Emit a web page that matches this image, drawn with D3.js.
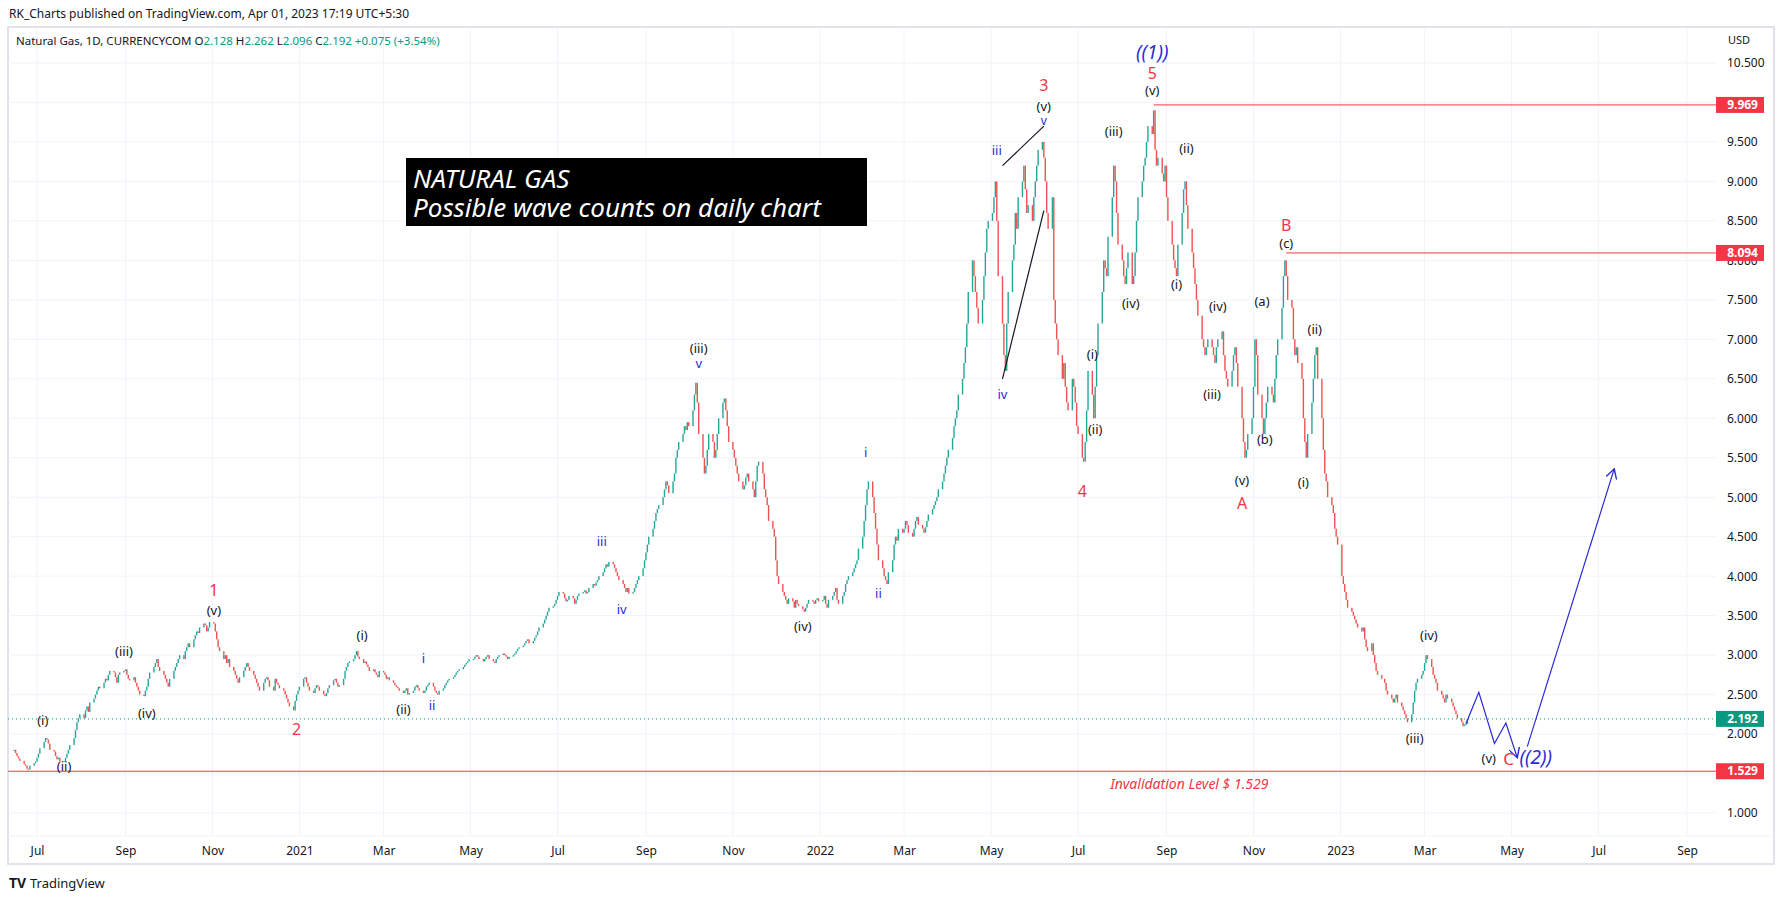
<!DOCTYPE html>
<html><head><meta charset="utf-8">
<script src="https://cdn.jsdelivr.net/npm/d3@7"></script>
<style>
body{margin:0;background:#fff;font-family:"Noto Sans",sans-serif;}
svg text{font-family:"Noto Sans",sans-serif;}
</style></head>
<body><div id="chart"></div>
<script>
// daily closes, one inner array per month (weekdays in order)
const startMonth2020 = "2020-06-15";
const close2020 = [
 [1.80,1.76,1.72,1.69,1.66,1.62,1.60,1.56,1.55,1.60,1.63,1.65],
 [1.70,1.75,1.82,1.90,1.95,1.93,1.88,1.80,1.78,1.72,1.68,1.70,1.65,1.66,1.70,1.75,1.80,1.86,1.95,2.05,2.15,2.20,2.25],
 [2.20,2.30,2.35,2.28,2.40,2.45,2.50,2.55,2.60,2.58,2.65,2.70,2.68,2.75,2.80,2.78,2.72,2.65,2.75,2.78,2.80],
 [2.82,2.75,2.70,2.68,2.72,2.65,2.60,2.55,2.50,2.48,2.55,2.60,2.70,2.78,2.85,2.90,2.95,2.85,2.80,2.75,2.70,2.65],
 [2.60,2.70,2.80,2.85,2.90,2.95,3.00,2.95,3.05,3.10,3.15,3.10,3.20,3.25,3.30,3.28,3.35,3.40,3.38,3.30,3.35,3.42],
 [3.40,3.30,3.20,3.10,3.05,2.95,3.00,2.90,2.95,2.85,2.80,2.75,2.70,2.65,2.72,2.80,2.85,2.90,2.85,2.80,2.75],
 [2.70,2.65,2.60,2.55,2.65,2.70,2.72,2.68,2.60,2.55,2.70,2.65,2.62,2.58,2.55,2.50,2.45,2.40,2.35,2.30,2.42,2.50,2.55]
];
const close2021 = [
 [2.60,2.70,2.72,2.65,2.60,2.55,2.52,2.58,2.62,2.60,2.55,2.50,2.48,2.52,2.58,2.62,2.68,2.70,2.65,2.60,2.62],
 [2.70,2.80,2.85,2.90,2.92,2.95,3.00,3.05,2.98,2.95,2.90,2.92,2.88,2.85,2.80,2.82,2.78,2.75,2.72,2.80],
 [2.78,2.75,2.70,2.72,2.68,2.65,2.62,2.60,2.58,2.55,2.52,2.55,2.58,2.50,2.52,2.55,2.60,2.62,2.58,2.55,2.52,2.55,2.60],
 [2.62,2.65,2.60,2.55,2.52,2.50,2.55,2.58,2.62,2.65,2.68,2.70,2.72,2.75,2.78,2.80,2.82,2.85,2.88,2.90,2.92,2.95],
 [2.95,2.98,3.00,2.98,2.95,2.92,2.95,2.98,3.00,2.95,2.92,2.90,2.95,2.98,3.00,3.02,3.00,2.98,2.95,2.98,3.00],
 [3.02,3.05,3.08,3.10,3.12,3.15,3.18,3.20,3.15,3.18,3.22,3.25,3.30,3.35,3.40,3.45,3.50,3.55,3.60,3.62,3.65,3.70],
 [3.75,3.80,3.78,3.72,3.68,3.70,3.75,3.72,3.65,3.70,3.75,3.78,3.80,3.82,3.78,3.80,3.85,3.90,3.88,3.92,3.95,4.00],
 [4.05,4.10,4.15,4.12,4.18,4.15,4.10,4.05,4.00,3.95,3.90,3.85,3.80,3.85,3.78,3.80,3.85,3.90,3.95,4.00,4.10,4.20],
 [4.30,4.40,4.50,4.60,4.70,4.80,4.85,4.90,5.00,5.10,5.20,5.15,5.05,5.20,5.30,5.50,5.60,5.70,5.80,5.90,5.85,5.95],
 [5.90,6.10,6.30,6.45,6.20,5.80,5.50,5.30,5.40,5.60,5.80,5.70,5.50,5.60,5.80,6.00,6.20,6.25,6.10,5.90,5.70],
 [5.60,5.50,5.40,5.30,5.20,5.10,5.15,5.25,5.30,5.20,5.10,5.00,5.20,5.40,5.45,5.30,5.10,5.00,4.90,4.70,4.60,4.50],
 [4.20,4.00,3.90,3.80,3.75,3.70,3.65,3.72,3.68,3.60,3.70,3.65,3.62,3.58,3.55,3.60,3.65,3.70,3.68,3.65,3.70,3.72,3.68]
];
const close2022 = [
 [3.70,3.75,3.65,3.60,3.70,3.75,3.80,3.85,3.70,3.65,3.75,3.80,3.90,3.95,4.00,4.05,4.10,4.15,4.20,4.35,4.50],
 [4.70,4.90,5.10,5.20,5.00,4.80,4.60,4.40,4.20,4.10,4.00,3.95,3.90,4.05,4.20,4.40,4.50,4.45,4.60,4.55],
 [4.60,4.70,4.65,4.55,4.50,4.60,4.70,4.75,4.65,4.60,4.55,4.62,4.70,4.78,4.85,4.90,4.95,5.00,5.10,5.20,5.30,5.40,5.50],
 [5.60,5.75,5.90,6.00,6.10,6.30,6.50,6.70,6.90,7.20,7.60,8.00,7.80,7.60,7.40,7.20,7.50,7.80,8.10,8.40,8.50],
 [8.60,8.80,9.00,8.50,7.80,7.20,6.80,6.60,7.20,7.60,8.00,8.20,8.60,8.40,8.80,9.00,9.20,8.90,8.60,8.70,8.50,8.80],
 [9.00,9.20,9.40,9.50,9.30,9.00,8.60,8.40,8.80,7.50,7.20,7.00,6.80,6.50,6.70,6.40,6.20,6.10,6.50,6.40,6.20,5.90],
 [5.80,5.50,5.45,5.70,6.10,6.60,6.30,6.00,6.40,6.80,7.20,7.60,8.00,7.90,7.80,8.30,8.80,9.20,9.00,8.60,8.20],
 [8.00,7.80,7.70,7.90,8.10,7.70,7.80,8.10,8.50,8.80,9.00,9.20,9.30,9.50,9.70,9.60,9.90,9.40,9.20,9.30,9.10,9.00,9.20],
 [8.80,8.50,8.20,8.00,7.90,7.80,8.20,8.60,8.90,9.00,8.70,8.40,8.10,7.90,7.70,7.50,7.30,7.00,6.90,6.80,6.90,7.00],
 [6.90,6.80,6.70,6.90,7.00,7.10,6.80,6.60,6.50,6.40,6.60,6.80,6.90,6.70,6.40,6.00,5.70,5.50,5.60,5.80,6.00],
 [6.40,7.00,6.80,6.30,6.00,5.80,6.00,6.20,6.40,6.30,6.20,6.50,6.80,7.00,7.40,7.80,8.00,7.80,7.50,7.40,7.00,6.80],
 [6.90,6.70,6.50,6.00,5.70,5.50,5.80,6.20,6.50,6.80,6.90,6.50,6.00,5.60,5.30,5.20,5.00,4.90,4.80,4.60,4.50,4.40]
];
const close2023 = [
 [4.00,3.90,3.80,3.70,3.60,3.55,3.50,3.45,3.40,3.35,3.30,3.35,3.20,3.10,3.05,3.15,3.00,2.90,2.80,2.75,2.70],
 [2.65,2.55,2.50,2.45,2.40,2.45,2.50,2.40,2.35,2.30,2.25,2.20,2.15,2.25,2.40,2.55,2.65,2.70,2.75,2.80],
 [2.90,3.00,2.95,2.85,2.75,2.70,2.65,2.55,2.50,2.45,2.40,2.50,2.45,2.40,2.35,2.30,2.25,2.20,2.15,2.10,2.12,2.128,2.192]
];

const priceTicks = d3.range(1, 10.51, 0.5);
const hiddenTickLabels = [10.0];
const levelLines = [ {date:"2022-08-23", price:9.969}, {date:"2022-11-24", price:8.094}, {date:"2020-06-01", price:1.529} ];
const lastPrice = 2.192;

// wave labels: [date, price, text, colour, size]
const waveLabels = [
 ["2020-07-05",2.16,"(i)","#131722",13],["2020-07-20",1.58,"(ii)","#131722",13],
 ["2020-08-31",3.03,"(iii)","#131722",13],["2020-09-16",2.25,"(iv)","#131722",13],
 ["2020-11-02",3.55,"(v)","#131722",13],["2020-11-02",3.80,"1","#f23645",16],
 ["2020-12-30",2.04,"2","#f23645",16],
 ["2021-02-14",3.24,"(i)","#131722",13],["2021-03-15",2.30,"(ii)","#131722",13],
 ["2021-03-29",2.94,"i","#2b2bd6",13],["2021-04-04",2.35,"ii","#2b2bd6",13],
 ["2021-08-01",4.42,"iii","#2b2bd6",13],["2021-08-15",3.56,"iv","#2b2bd6",13],
 ["2021-10-08",6.87,"(iii)","#131722",13],["2021-10-08",6.68,"v","#2b2bd6",13],
 ["2021-12-20",3.35,"(iv)","#131722",13],
 ["2022-02-02",5.55,"i","#2b2bd6",13],["2022-02-11",3.77,"ii","#2b2bd6",13],
 ["2022-05-05",9.38,"iii","#2b2bd6",13],["2022-05-09",6.29,"iv","#2b2bd6",13],
 ["2022-06-07",9.93,"(v)","#131722",13],["2022-06-07",10.20,"3","#f23645",16],["2022-06-07",9.76,"v","#2b2bd6",12],
 ["2022-07-04",5.06,"4","#f23645",16],
 ["2022-07-11",6.79,"(i)","#131722",13],["2022-07-13",5.85,"(ii)","#131722",13],
 ["2022-07-26",9.62,"(iii)","#131722",13],["2022-08-07",7.44,"(iv)","#131722",13],
 ["2022-08-22",10.14,"(v)","#131722",13],["2022-08-22",10.35,"5","#f23645",16],["2022-08-22",10.62,"((1))","#2b2bd6",19],
 ["2022-09-08",7.68,"(i)","#131722",13],["2022-09-15",9.41,"(ii)","#131722",13],
 ["2022-10-03",6.29,"(iii)","#131722",13],["2022-10-07",7.40,"(iv)","#131722",13],
 ["2022-10-24",5.20,"(v)","#131722",13],["2022-10-24",4.90,"A","#f23645",16],
 ["2022-11-07",7.46,"(a)","#131722",13],["2022-11-09",5.72,"(b)","#131722",13],
 ["2022-11-24",8.42,"B","#f23645",16],["2022-11-24",8.20,"(c)","#131722",13],
 ["2022-12-06",5.17,"(i)","#131722",13],["2022-12-14",7.11,"(ii)","#131722",13],
 ["2023-02-22",1.93,"(iii)","#131722",13],["2023-03-04",3.24,"(iv)","#131722",13],
 ["2023-04-15",1.68,"(v)","#131722",13],["2023-04-29",1.66,"C","#f23645",17],["2023-05-18",1.69,"((2))","#2b2bd6",19]
];
// drawn lines
const wedgeLines = [ [["2022-05-09",9.20],["2022-06-07",9.70]], [["2022-05-09",6.50],["2022-06-07",8.63]] ];
const projPath1 = [["2023-03-30",2.13],["2023-04-08",2.53],["2023-04-19",1.88],["2023-04-27",2.14],["2023-05-05",1.70]];
const projPath2 = [["2023-05-12",1.84],["2023-07-12",5.36]];

// ---- build candles
const parse = d3.timeParse("%Y-%m-%d");
function buildCandles() {
  const out = [];
  let prev = null;
  [[2020, close2020, 5], [2021, close2021, 0], [2022, close2022, 0], [2023, close2023, 0]].forEach(([yr, months, m0]) => {
    months.forEach((vals, mi) => {
      let d = (yr === 2020 && mi === 0) ? parse(startMonth2020) : new Date(yr, m0 + mi, 1);
      const end = new Date(yr, m0 + mi + 1, 1);
      let k = 0;
      while (d < end && k < vals.length) {
        const wd = d.getDay();
        if (wd !== 0 && wd !== 6) {
          const c = vals[k++];
          const o = prev == null ? c : prev;
          out.push({date: new Date(d), open: o, close: c});
          prev = c;
        }
        d = d3.timeDay.offset(d, 1);
      }
    });
  });
  return out;
}
const candles = buildCandles();

const W = 1777, H = 899;
const plotL = 8, plotR = 1716, plotT = 27, plotB = 836;
const svg = d3.select("#chart").append("svg").attr("width", W).attr("height", H);

const x = d3.scaleTime().domain([parse("2020-07-01"), parse("2023-09-01")]).range([37, 1687]);
const y = d3.scaleLinear().domain([1.0, 10.5]).range([813, 63]);

// header
svg.append("text").attr("x", 9).attr("y", 18).attr("font-size", 12).attr("fill", "#131722")
  .text("RK_Charts published on TradingView.com, Apr 01, 2023 17:19 UTC+5:30");
svg.append("rect").attr("x", plotL).attr("y", plotT).attr("width", 1766).attr("height", 837)
  .attr("fill", "none").attr("stroke", "#e0e3eb").attr("stroke-width", 2);

// grid
const gridG = svg.append("g");
gridG.selectAll("line.h").data(priceTicks).join("line")
  .attr("x1", plotL).attr("x2", plotR).attr("y1", d => y(d)).attr("y2", d => y(d))
  .attr("stroke", "#f0f3fa");
const monthTicks = d3.timeMonth.every(2).range(parse("2020-07-01"), parse("2023-09-02"));
gridG.selectAll("line.v").data(monthTicks).join("line")
  .attr("x1", d => x(d)).attr("x2", d => x(d)).attr("y1", plotT).attr("y2", plotB)
  .attr("stroke", "#f0f3fa");

// x axis
const xAxis = d3.axisBottom(x).tickValues(monthTicks).tickSize(0)
  .tickFormat(d => d.getMonth() === 0 ? d3.timeFormat("%Y")(d) : d3.timeFormat("%b")(d));
const xg = svg.append("g").attr("transform", `translate(0,${plotB})`).call(xAxis);
xg.select(".domain").remove();
xg.selectAll("text").attr("font-size", 12).attr("fill", "#131722").attr("dy", "1.3em");
svg.append("line").attr("x1", plotL).attr("x2", 1774).attr("y1", plotB).attr("y2", plotB).attr("stroke", "#f0f3fa");

// y axis
const yAxis = d3.axisRight(y).tickValues(priceTicks.filter(v => !hiddenTickLabels.includes(v)))
  .tickSize(0).tickFormat(d3.format(".3f"));
const yg = svg.append("g").attr("transform", `translate(${plotR + 8},0)`).call(yAxis);
yg.select(".domain").remove();
yg.selectAll("text").attr("font-size", 12).attr("fill", "#131722");
svg.append("text").attr("x", plotR + 12).attr("y", 44).attr("font-size", 11).attr("fill", "#131722").text("USD");

// candles
const cg = svg.append("g");
cg.selectAll("rect").data(candles).join("rect")
  .attr("x", d => x(d.date) - 0.7).attr("width", 1.4)
  .attr("y", d => y(Math.max(d.open, d.close)))
  .attr("height", d => Math.max(1, Math.abs(y(d.open) - y(d.close))))
  .attr("fill", d => d.close >= d.open ? "#26a69a" : "#ef5350");

// last price dotted line
svg.append("line").attr("x1", plotL).attr("x2", plotR).attr("y1", y(lastPrice)).attr("y2", y(lastPrice))
  .attr("stroke", "#089981").attr("stroke-dasharray", "1,3");

// level lines
svg.selectAll("line.level").data(levelLines).join("line")
  .attr("x1", d => Math.max(plotL, x(parse(d.date)))).attr("x2", plotR)
  .attr("y1", d => y(d.price)).attr("y2", d => y(d.price)).attr("stroke", "#f23645");

// axis price boxes
const boxes = levelLines.map(d => ({p: d.price, c: "#f23645"})).concat([{p: lastPrice, c: "#089981"}]);
const bg = svg.selectAll("g.box").data(boxes).join("g").attr("transform", d => `translate(${plotR},${y(d.p)})`);
bg.append("rect").attr("x", 0).attr("y", -8).attr("width", 48).attr("height", 16).attr("fill", d => d.c);
bg.append("text").attr("x", 42).attr("y", 4).attr("text-anchor", "end").attr("font-size", 12)
  .attr("font-weight", "bold").attr("fill", "#fff").text(d => d3.format(".3f")(d.p));

// wedge and projection lines
const line = d3.line().x(d => x(parse(d[0]))).y(d => y(d[1]));
svg.selectAll("path.wedge").data(wedgeLines).join("path").attr("d", line)
  .attr("fill", "none").attr("stroke", "#131722").attr("stroke-width", 1.2);
svg.append("defs").append("marker").attr("id", "arr").attr("viewBox", "0 0 10 10").attr("refX", 9).attr("refY", 5)
  .attr("markerWidth", 9).attr("markerHeight", 9).attr("orient", "auto-start-reverse")
  .append("path").attr("d", "M0,0 L9,5 L0,10").attr("fill", "none").attr("stroke", "#2b2bd6").attr("stroke-width", 1.3);
[projPath1, projPath2].forEach(p => {
  svg.append("path").attr("d", line(p)).attr("fill", "none").attr("stroke", "#2b2bd6")
    .attr("stroke-width", 1.2).attr("marker-end", "url(#arr)");
});

// wave labels
svg.selectAll("text.wave").data(waveLabels).join("text")
  .attr("x", d => x(parse(d[0]))).attr("y", d => y(d[1]))
  .attr("text-anchor", "middle").attr("dominant-baseline", "middle")
  .attr("font-size", d => d[4]).attr("fill", d => d[3])
  .attr("font-style", d => d[2].startsWith("((") ? "italic" : null)
  .text(d => d[2]);

// invalidation text
svg.append("text").attr("x", x(parse("2022-09-17"))).attr("y", y(1.35)).attr("text-anchor", "middle")
  .attr("dominant-baseline", "middle").attr("font-size", 14).attr("font-style", "italic").attr("fill", "#f23645")
  .text("Invalidation Level  $ 1.529");

// title box
svg.append("rect").attr("x", 406).attr("y", 158).attr("width", 461).attr("height", 68).attr("fill", "#000");
svg.append("text").attr("x", 413).attr("y", 188).attr("font-size", 26).attr("font-style", "italic").attr("fill", "#fff").text("NATURAL GAS");
svg.append("text").attr("x", 413).attr("y", 217).attr("font-size", 26).attr("font-style", "italic").attr("fill", "#fff").text("Possible wave counts on daily chart");

// legend line
const leg = svg.append("text").attr("x", 16).attr("y", 45).attr("font-size", 11.5).attr("fill", "#131722");
leg.append("tspan").text("Natural Gas, 1D, CURRENCYCOM  O");
leg.append("tspan").attr("fill", "#089981").text("2.128");
leg.append("tspan").text("  H");
leg.append("tspan").attr("fill", "#089981").text("2.262");
leg.append("tspan").text("  L");
leg.append("tspan").attr("fill", "#089981").text("2.096");
leg.append("tspan").text("  C");
leg.append("tspan").attr("fill", "#089981").text("2.192  +0.075 (+3.54%)");

// footer logo
svg.append("text").attr("x", 9).attr("y", 888).attr("font-size", 14).attr("font-weight", "bold").attr("fill", "#131722").text("TV");
svg.append("text").attr("x", 30).attr("y", 888).attr("font-size", 13).attr("fill", "#131722").text("TradingView");
</script></body></html>
